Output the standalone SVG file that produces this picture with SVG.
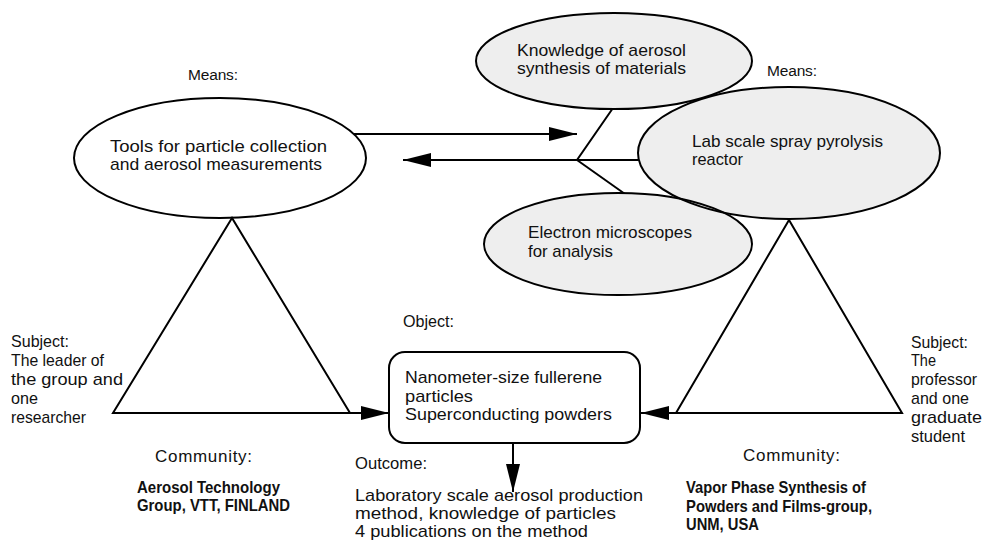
<svg xmlns="http://www.w3.org/2000/svg" xmlns:xlink="http://www.w3.org/1999/xlink" width="990" height="540" viewBox="0 0 990 540">
<style>
text{font-family:"Liberation Sans",Arial,sans-serif;font-size:17px;fill:#111}
.b{font-weight:bold;font-size:16.5px}
.m{font-size:15.5px}
.fillw{fill:#fff;stroke:#000;stroke-width:2}
.fillg{fill:#eeeeee;stroke:none}
.outl{fill:none;stroke:#000;stroke-width:2}
.ln{fill:none;stroke:#000;stroke-width:2}
</style>
<defs>
<marker id="ah" viewBox="0 0 28 14" refX="28" refY="7" markerWidth="28" markerHeight="14" markerUnits="userSpaceOnUse" orient="auto">
<path d="M0,0 L28,7 L0,14 Z" fill="#000"/>
</marker>
<ellipse id="sh-know" cx="614" cy="61" rx="138" ry="48"/>
<ellipse id="sh-lab" cx="789" cy="153" rx="151" ry="66"/>
<ellipse id="sh-elec" cx="618" cy="244" rx="134" ry="51"/>
</defs>
<g id="connectors">
<line class="ln" x1="354" y1="134" x2="577" y2="134" marker-end="url(#ah)"/>
<line class="ln" x1="577" y1="160" x2="403" y2="160" marker-end="url(#ah)"/>
<polyline class="ln" points="613,108 577,160 639,160"/>
<line class="ln" x1="577" y1="160" x2="625" y2="194"/>
<line class="ln" x1="350" y1="413" x2="389" y2="413" marker-end="url(#ah)"/>
<line class="ln" x1="676" y1="413" x2="641" y2="413" marker-end="url(#ah)"/>
<line class="ln" x1="513" y1="443" x2="513" y2="492" marker-end="url(#ah)"/>
</g>
<g id="tools">
<ellipse class="fillw" cx="220" cy="158" rx="146" ry="60"/>
<text x="110" y="152" textLength="217" lengthAdjust="spacingAndGlyphs">Tools for particle collection</text>
<text x="110" y="170" textLength="212" lengthAdjust="spacingAndGlyphs">and aerosol measurements</text>
</g>
<g id="means-left"><text class="m" x="188" y="80" textLength="50">Means:</text></g>
<g id="means-right"><text class="m" x="767" y="76" textLength="50">Means:</text></g>
<g id="knowledge">
<use xlink:href="#sh-know" class="fillg"/>
</g>
<g id="electron">
<use xlink:href="#sh-elec" class="fillg"/>
</g>
<g id="lab">
<use xlink:href="#sh-lab" class="fillg"/>
</g>
<g id="outlines">
<use xlink:href="#sh-know" class="outl"/>
<use xlink:href="#sh-lab" class="outl"/>
<use xlink:href="#sh-elec" class="outl"/>
</g>
<g id="ellipse-labels">
<text x="517" y="56" textLength="169" lengthAdjust="spacingAndGlyphs">Knowledge of aerosol</text>
<text x="517" y="74" textLength="169" lengthAdjust="spacingAndGlyphs">synthesis of materials</text>
<text x="692" y="147" textLength="191" lengthAdjust="spacingAndGlyphs">Lab scale spray pyrolysis</text>
<text x="692" y="165" textLength="51" lengthAdjust="spacingAndGlyphs">reactor</text>
<text x="528" y="238" textLength="164" lengthAdjust="spacingAndGlyphs">Electron microscopes</text>
<text x="528" y="257" textLength="85" lengthAdjust="spacingAndGlyphs">for analysis</text>
</g>
<g id="triangle-left">
<polygon class="ln" points="232,218 113,413 350,413"/>
</g>
<g id="triangle-right">
<polygon class="ln" points="789,220 676,413 902,413"/>
</g>
<g id="subject-left">
<text x="11" y="347" textLength="58" lengthAdjust="spacingAndGlyphs">Subject:</text>
<text x="11" y="366" textLength="93" lengthAdjust="spacingAndGlyphs">The leader of</text>
<text x="11" y="385" textLength="112" lengthAdjust="spacingAndGlyphs">the group and</text>
<text x="11" y="404" textLength="27" lengthAdjust="spacingAndGlyphs">one</text>
<text x="11" y="423" textLength="75" lengthAdjust="spacingAndGlyphs">researcher</text>
</g>
<g id="subject-right">
<text x="911" y="348" textLength="57" lengthAdjust="spacingAndGlyphs">Subject:</text>
<text x="911" y="366" textLength="25" lengthAdjust="spacingAndGlyphs">The</text>
<text x="911" y="385" textLength="66" lengthAdjust="spacingAndGlyphs">professor</text>
<text x="911" y="404" textLength="58" lengthAdjust="spacingAndGlyphs">and one</text>
<text x="911" y="423" textLength="71" lengthAdjust="spacingAndGlyphs">graduate</text>
<text x="911" y="442" textLength="54" lengthAdjust="spacingAndGlyphs">student</text>
</g>
<g id="object">
<text x="403" y="327" textLength="51" lengthAdjust="spacingAndGlyphs">Object:</text>
<rect class="fillw" x="389" y="352" width="251" height="91" rx="16"/>
<text x="405" y="383" textLength="197" lengthAdjust="spacingAndGlyphs">Nanometer-size fullerene</text>
<text x="405" y="402" textLength="68" lengthAdjust="spacingAndGlyphs">particles</text>
<text x="405" y="420" textLength="207" lengthAdjust="spacingAndGlyphs">Superconducting powders</text>
</g>
<g id="outcome">
<text x="355" y="469" textLength="72" lengthAdjust="spacingAndGlyphs">Outcome:</text>
<text x="355" y="501" textLength="288" lengthAdjust="spacingAndGlyphs">Laboratory scale aerosol production</text>
<text x="355" y="519" textLength="261" lengthAdjust="spacingAndGlyphs">method, knowledge of particles</text>
<text x="355" y="537" textLength="233" lengthAdjust="spacingAndGlyphs">4 publications on the method</text>
</g>
<g id="community-left">
<text x="155" y="462" textLength="97">Community:</text>
<text class="b" x="137" y="493" textLength="143" lengthAdjust="spacingAndGlyphs">Aerosol Technology</text>
<text class="b" x="137" y="511" textLength="153" lengthAdjust="spacingAndGlyphs">Group, VTT, FINLAND</text>
</g>
<g id="community-right">
<text x="743" y="461" textLength="97">Community:</text>
<text class="b" x="686" y="493" textLength="180" lengthAdjust="spacingAndGlyphs">Vapor Phase Synthesis of</text>
<text class="b" x="686" y="512" textLength="186" lengthAdjust="spacingAndGlyphs">Powders and Films-group,</text>
<text class="b" x="686" y="530" textLength="73" lengthAdjust="spacingAndGlyphs">UNM, USA</text>
</g>
</svg>
